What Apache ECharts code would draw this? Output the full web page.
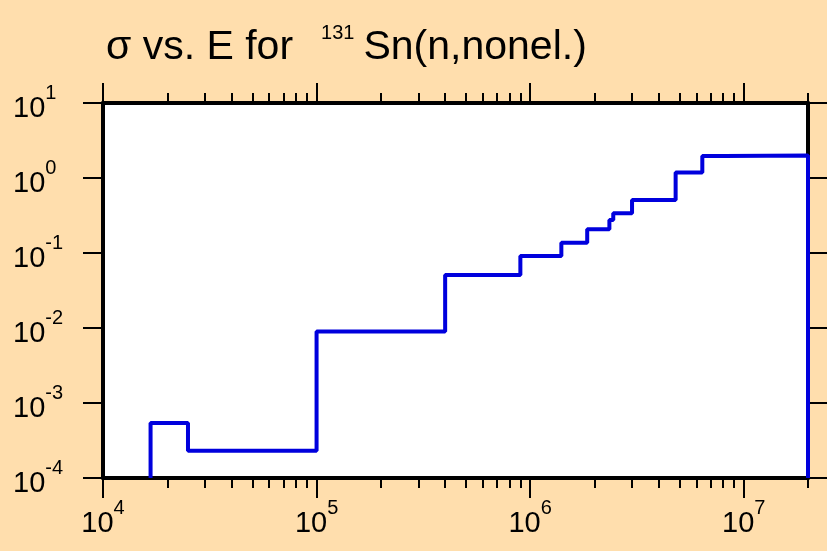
<!DOCTYPE html>
<html><head><meta charset="utf-8">
<script src="https://cdn.jsdelivr.net/npm/echarts@6/dist/echarts.min.js"></script>
<style>html,body{margin:0;padding:0;background:#FFDEAD}#c{width:827px;height:551px}</style>
</head><body><div id="c"></div>
<script>
// Energy (eV) and cross-section (b) step points
const energies = [16700, 16700, 25000, 100000, 400000, 900000, 1400000, 1850000, 2350000, 2450000, 3000000, 4800000, 6400000, 8100000, 20000000, 20000000];
const sigma    = [1e-4, 5.4e-4, 2.3e-4, 9.0e-3, 0.051, 0.091, 0.137, 0.207, 0.275, 0.338, 0.509, 1.18, 1.96, 2.0, 2.0, 1e-4];
const xMajorTicks = [1e4, 1e5, 1e6, 1e7];
const xMinorTicks = [2e4,3e4,4e4,5e4,6e4,7e4,8e4,9e4, 2e5,3e5,4e5,5e5,6e5,7e5,8e5,9e5, 2e6,3e6,4e6,5e6,6e6,7e6,8e6,9e6, 2e7];
const yMajorTicks = [1e-4, 1e-3, 1e-2, 1e-1, 1, 10];
const titleMain = 'σ vs. E for';
const titleMass = '131';
const titleRest = 'Sn(n,nonel.)';

const FF = '"Liberation Sans", Arial, sans-serif';
const rich = {
  b: {fontSize: 29, fontFamily: FF, color: '#000', lineHeight: 40, verticalAlign: 'bottom'},
  s: {fontSize: 20, fontFamily: FF, color: '#000', lineHeight: 16, verticalAlign: 'top'}
};
const fmt = v => '{b|10}{s|' + Math.round(Math.log10(v)) + '}';

function xAx(pos, ticks, len, line, labels) {
  return {
    type: 'log', logBase: 10, min: 1e4, max: 2e7, position: pos,
    axisLine: {show: line, onZero: false, lineStyle: {color: '#000', width: 4}},
    axisTick: {show: true, inside: false, length: len, customValues: ticks, lineStyle: {color: '#000', width: 2}},
    axisLabel: labels ? {show: true, customValues: xMajorTicks, formatter: fmt, rich: rich, margin: 20} : {show: false},
    splitLine: {show: false}, minorTick: {show: false}
  };
}
function yAx(pos, labels) {
  return {
    type: 'log', logBase: 10, min: 1e-4, max: 10, position: pos,
    axisLine: {show: true, onZero: false, lineStyle: {color: '#000', width: 4}},
    axisTick: {show: true, inside: false, length: 20, customValues: yMajorTicks, lineStyle: {color: '#000', width: 2}},
    axisLabel: labels ? {show: true, customValues: yMajorTicks, formatter: fmt, rich: rich, margin: 90, align: 'left'} : {show: false},
    splitLine: {show: false}, minorTick: {show: false}
  };
}

const chart = echarts.init(document.getElementById('c'), null, {renderer: 'canvas'});
chart.setOption({
  backgroundColor: '#FFDEAD',
  animation: false,
  graphic: [{
    type: 'text', left: 106, top: 23, z: 10,
    style: {
      text: '{a|' + titleMain + '}{s|' + titleMass + '}{a|' + titleRest + '}',
      fill: '#000', fontSize: 41, fontFamily: FF,
      rich: {
        a: {fontSize: 41, fontFamily: FF, fill: '#000', lineHeight: 45, verticalAlign: 'bottom'},
        s: {fontSize: 20, fontFamily: FF, fill: '#000', lineHeight: 16, verticalAlign: 'top', padding: [0, 9, 0, 28]}
      }
    }
  }],
  grid: {left: 103, right: 19, top: 103, bottom: 73, show: true, backgroundColor: '#fff', borderWidth: 0},
  xAxis: [
    xAx('bottom', xMajorTicks, 20, true, true),
    xAx('bottom', xMinorTicks, 10, false, false),
    xAx('top', xMajorTicks, 20, true, false),
    xAx('top', xMinorTicks, 10, false, false)
  ],
  yAxis: [yAx('left', true), yAx('right', false)],
  series: [{
    type: 'line', xAxisIndex: 0, yAxisIndex: 0, step: 'end', symbol: 'none',
    lineStyle: {color: '#0000DD', width: 4},
    data: energies.map((e, i) => [e, sigma[i]])
  }]
});
</script></body></html>
